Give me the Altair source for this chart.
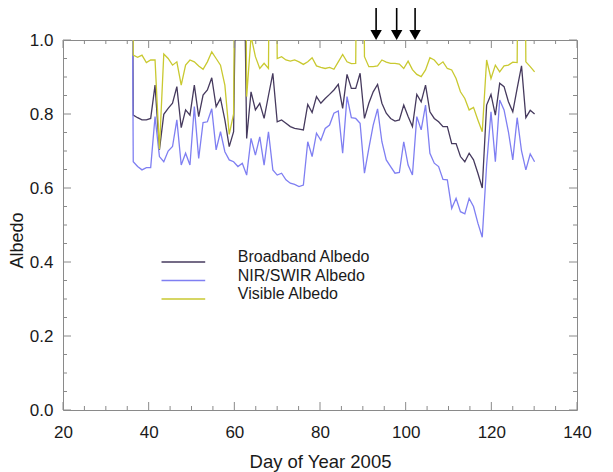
import altair as alt
import pandas as pd

# sample times (day of year): first sample just off the top,
# then 93 roughly evenly spaced samples from day ~36.4 to ~130.1
days = [round(36.4 + k * 1.0185, 2) for k in range(-1, 93)]

broadband = [3.0, .797, .790, .784, .784, .788, .878, .703, .799, .815,
             .829, .874, .763, .811, .797, .878, .793, .851, .865, .898,
             .820, .842, .784, .712, .752, 1.6, 1.6, .734, .860, .811,
             .829, .788, .850, .910, .779, .784, .775, .766, .761, .759,
             .757, .826, .804, .847, .829, .842, .853, .865, .880, .815,
             .907, .869, .869, .910, .788, .829, .860, .880, .829, .802,
             .788, .781, .784, .824, .793, .766, .853, .833, .878, .806,
             .788, .779, .766, .766, .720, .720, .685, .671, .694, .676,
             .640, .600, .824, .853, .797, .883, .874, .833, .806, .869,
             .930, .790, .810, .800]

nir = [3.0, .671, .658, .649, .655, .655, .793, .685, .671, .700,
       .712, .784, .662, .694, .662, .820, .680, .777, .779, .814,
       .703, .752, .698, .676, .671, .658, .667, .635, .734, .689,
       .738, .662, .752, .649, .635, .640, .622, .613, .610, .604,
       .608, .725, .685, .748, .729, .761, .770, .802, .808, .694,
       .847, .790, .788, .775, .640, .707, .770, .814, .725, .676,
       .658, .640, .642, .725, .662, .635, .793, .757, .824, .694,
       .667, .658, .623, .622, .545, .572, .536, .530, .572, .550,
       .505, .467, .662, .806, .671, .838, .811, .752, .676, .790,
       .700, .649, .692, .671]

visible = [3.0, .959, .953, .959, .939, .946, .946, .705, .962, .950,
           .932, .941, .878, .932, .946, .941, .930, .921, .941, .968,
           .950, .932, .878, .745, .800, 2.5, 2.5, .847, 1.01, .955,
           .923, .937, .923, 2.5, .950, .955, .946, .943, .946, .941,
           .934, .941, .952, .930, .926, .923, .926, .921, .941, .961,
           .941, .936, .937, 2.5, .955, .928, .928, .930, .946, .940,
           .937, .937, .935, .923, .943, .920, .907, .901, .919, .952,
           .946, .932, .941, .923, .919, .896, .860, .842, .811, .818,
           .784, .752, .946, .896, .932, .914, .930, .932, .940, .939,
           2.5, .941, .928, .914]

series_names = ["Broadband Albedo", "NIR/SWIR Albedo", "Visible Albedo"]
series_colors = ["#463a5e", "#7f7ff2", "#c9c930"]

# legend drawn in data coordinates (as in the original plot)
legend_y = [0.40, 0.35, 0.30]
legend_x0, legend_x1, legend_xt = 43.0, 53.2, 60.8

arrow_days = [93.1, 97.9, 102.2]

x_major = [20, 40, 60, 80, 100, 120, 140]
x_minor = [v for v in range(20, 141, 5) if v not in x_major]
y_major = [0.0, 0.2, 0.4, 0.6, 0.8, 1.0]
y_minor = [round(v * 0.05, 2) for v in range(21) if round(v * 0.05, 2) not in y_major]

n = len(days)
df = pd.DataFrame({
    "day": days * 3,
    "albedo": broadband + nir + visible,
    "series": [series_names[0]] * n + [series_names[1]] * n + [series_names[2]] * n,
})

W, H = 514, 370
FONT = "Liberation Sans"
AX = "#8a8a8a"

xs = alt.Scale(domain=[20, 140], nice=False, zero=False)
ys = alt.Scale(domain=[0, 1], nice=False, zero=False)
cs = alt.Scale(domain=series_names, range=series_colors)
x_axis = alt.Axis(title="Day of Year 2005", values=x_major, format="d",
                  labelPadding=14, titlePadding=12, labelFlush=False,
                  titleFontSize=18.5)
y_axis = alt.Axis(title="Albedo", values=y_major, format=".1f",
                  labelPadding=10, titlePadding=3, labelFlush=False,
                  titleFontSize=18, titleY=200)

lines = alt.Chart(df).mark_line(clip=True, strokeWidth=1.3).encode(
    x=alt.X("day:Q", scale=xs, axis=x_axis),
    y=alt.Y("albedo:Q", scale=ys, axis=y_axis),
    color=alt.Color("series:N", scale=cs, legend=None),
)

ldf = pd.DataFrame({"series": series_names, "albedo": legend_y,
                    "day": [legend_x0] * 3, "day2": [legend_x1] * 3,
                    "dayt": [legend_xt] * 3})
leg_lines = alt.Chart(ldf).mark_rule(strokeWidth=1.3).encode(
    x=alt.X("day:Q", scale=xs, axis=x_axis), x2="day2:Q",
    y=alt.Y("albedo:Q", scale=ys, axis=y_axis),
    color=alt.Color("series:N", scale=cs, legend=None),
)
leg_text = alt.Chart(ldf).mark_text(align="left", baseline="alphabetic", font=FONT,
                                    fontSize=16, color="#1a1a1a").encode(
    x=alt.X("dayt:Q", scale=xs, axis=x_axis),
    y=alt.Y("albedo:Q", scale=ys, axis=y_axis),
    text="series:N",
)

def xticks(vals, length):
    d = pd.DataFrame({"day": vals})
    b = alt.Chart(d).mark_rule(color=AX, strokeWidth=1).encode(
        x=alt.X("day:Q", scale=xs, axis=x_axis), y=alt.value(H), y2=alt.value(H - length))
    t = alt.Chart(d).mark_rule(color=AX, strokeWidth=1).encode(
        x=alt.X("day:Q", scale=xs, axis=x_axis), y=alt.value(0), y2=alt.value(length))
    return [b, t]

def yticks(vals, length):
    d = pd.DataFrame({"albedo": vals})
    l = alt.Chart(d).mark_rule(color=AX, strokeWidth=1).encode(
        y=alt.Y("albedo:Q", scale=ys, axis=y_axis), x=alt.value(0), x2=alt.value(length))
    r = alt.Chart(d).mark_rule(color=AX, strokeWidth=1).encode(
        y=alt.Y("albedo:Q", scale=ys, axis=y_axis), x=alt.value(W), x2=alt.value(W - length))
    return [l, r]

ticks = xticks(x_major, 8) + xticks(x_minor, 4) + yticks(y_major, 8) + yticks(y_minor, 4)

adf = pd.DataFrame({"day": arrow_days})
shafts = alt.Chart(adf).mark_rule(color="black", strokeWidth=1.6).encode(
    x=alt.X("day:Q", scale=xs, axis=x_axis), y=alt.value(-32), y2=alt.value(-9))
heads = alt.Chart(adf).mark_point(shape="triangle-down", filled=True, size=130,
                                  color="black", opacity=1).encode(
    x=alt.X("day:Q", scale=xs, axis=x_axis), y=alt.value(-5))

chart = alt.layer(lines, leg_lines, leg_text, *ticks, shafts, heads).properties(
    width=W, height=H,
    autosize=alt.AutoSizeParams(type="none"),
    padding={"left": 55, "top": 32, "right": 28, "bottom": 62},
).configure_view(stroke=AX, strokeWidth=1).configure_axis(
    grid=False, domain=False, ticks=False,
    labelFont=FONT, titleFont=FONT, labelFontSize=17, titleFontSize=17,
    labelColor="#1a1a1a", titleColor="#1a1a1a", titleFontWeight="normal",
)

chart.save("out.html", embed_options={"renderer": "svg", "actions": False})
